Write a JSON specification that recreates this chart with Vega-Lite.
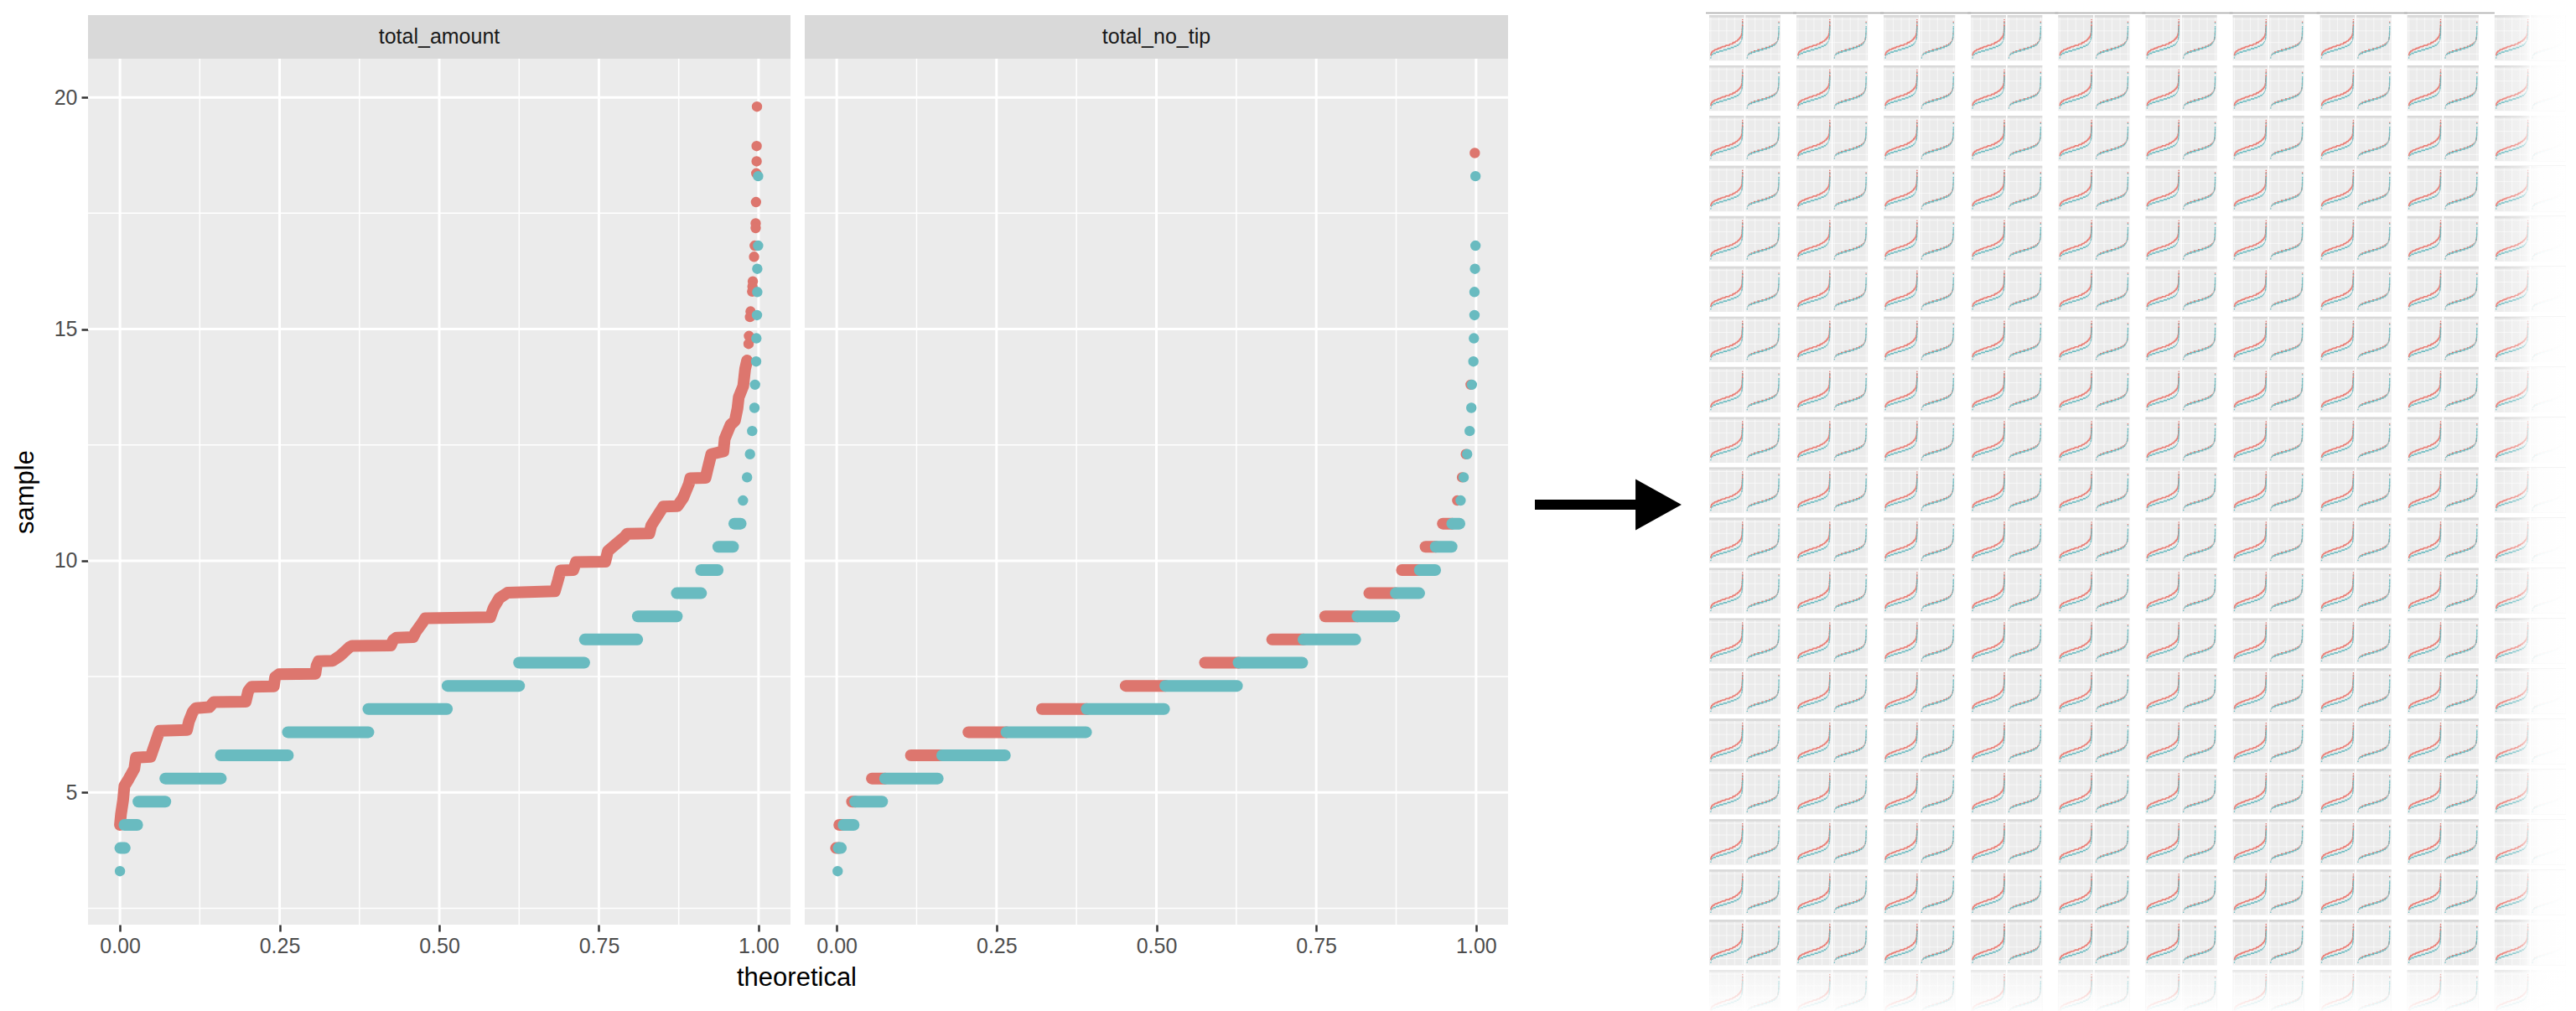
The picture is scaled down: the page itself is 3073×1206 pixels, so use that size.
{
  "$schema": "https://vega.github.io/schema/vega-lite/v6.json",
  "padding": {"left": 14, "top": 14, "right": 0, "bottom": 0},
  "background": "white",
  "config": {"font": "Liberation Sans", "view": {"stroke": null}},
  "datasets": {
    "grid": [
      {"dir": "x", "val": 0, "kind": "major"}, {"dir": "x", "val": 0.25, "kind": "major"}, {"dir": "x", "val": 0.5, "kind": "major"}, {"dir": "x", "val": 0.75, "kind": "major"}, {"dir": "x", "val": 1, "kind": "major"},
      {"dir": "x", "val": 0.125, "kind": "minor"}, {"dir": "x", "val": 0.375, "kind": "minor"}, {"dir": "x", "val": 0.625, "kind": "minor"}, {"dir": "x", "val": 0.875, "kind": "minor"},
      {"dir": "y", "val": 5, "kind": "major"}, {"dir": "y", "val": 10, "kind": "major"}, {"dir": "y", "val": 15, "kind": "major"}, {"dir": "y", "val": 20, "kind": "major"},
      {"dir": "y", "val": 2.5, "kind": "minor"}, {"dir": "y", "val": 7.5, "kind": "minor"}, {"dir": "y", "val": 12.5, "kind": "minor"}, {"dir": "y", "val": 17.5, "kind": "minor"}
    ],
    "curve": [
      {"t": 0.000, "v": 4.30}, {"t": 0.0017, "v": 4.54}, {"t": 0.005, "v": 4.84}, {"t": 0.007, "v": 5.14}, {"t": 0.0137, "v": 5.29}, {"t": 0.0225, "v": 5.51}, {"t": 0.025, "v": 5.75}, {"t": 0.048, "v": 5.77}, {"t": 0.055, "v": 6.05}, {"t": 0.062, "v": 6.33}, {"t": 0.105, "v": 6.35}, {"t": 0.108, "v": 6.53}, {"t": 0.114, "v": 6.74}, {"t": 0.119, "v": 6.82}, {"t": 0.140, "v": 6.84}, {"t": 0.147, "v": 6.95}, {"t": 0.197, "v": 6.96}, {"t": 0.201, "v": 7.19}, {"t": 0.206, "v": 7.28}, {"t": 0.241, "v": 7.29}, {"t": 0.243, "v": 7.49}, {"t": 0.249, "v": 7.55}, {"t": 0.306, "v": 7.56}, {"t": 0.308, "v": 7.74}, {"t": 0.311, "v": 7.83}, {"t": 0.333, "v": 7.84}, {"t": 0.345, "v": 7.95}, {"t": 0.359, "v": 8.13}, {"t": 0.363, "v": 8.16}, {"t": 0.424, "v": 8.17}, {"t": 0.428, "v": 8.29}, {"t": 0.433, "v": 8.34}, {"t": 0.459, "v": 8.35}, {"t": 0.463, "v": 8.46}, {"t": 0.474, "v": 8.67}, {"t": 0.478, "v": 8.76}, {"t": 0.580, "v": 8.78}, {"t": 0.585, "v": 8.98}, {"t": 0.594, "v": 9.19}, {"t": 0.607, "v": 9.31}, {"t": 0.681, "v": 9.34}, {"t": 0.686, "v": 9.58}, {"t": 0.690, "v": 9.79}, {"t": 0.710, "v": 9.80}, {"t": 0.714, "v": 9.97}, {"t": 0.760, "v": 9.98}, {"t": 0.764, "v": 10.21}, {"t": 0.777, "v": 10.36}, {"t": 0.790, "v": 10.51}, {"t": 0.794, "v": 10.58}, {"t": 0.829, "v": 10.59}, {"t": 0.832, "v": 10.76}, {"t": 0.843, "v": 11.00}, {"t": 0.851, "v": 11.17}, {"t": 0.873, "v": 11.18}, {"t": 0.882, "v": 11.36}, {"t": 0.891, "v": 11.66}, {"t": 0.893, "v": 11.78}, {"t": 0.917, "v": 11.79}, {"t": 0.921, "v": 12.02}, {"t": 0.926, "v": 12.30}, {"t": 0.945, "v": 12.36}, {"t": 0.947, "v": 12.63}, {"t": 0.956, "v": 12.93}, {"t": 0.963, "v": 13.02}, {"t": 0.967, "v": 13.29}, {"t": 0.969, "v": 13.53}, {"t": 0.976, "v": 13.77}, {"t": 0.979, "v": 14.14}, {"t": 0.982, "v": 14.32}
    ],
    "runs": [
      {"panel": "total_no_tip", "grp": "CRD", "v": 3.8, "t0": -0.001, "t1": 0.003},
      {"panel": "total_no_tip", "grp": "CRD", "v": 4.3, "t0": 0.004, "t1": 0.0107},
      {"panel": "total_no_tip", "grp": "CRD", "v": 4.8, "t0": 0.024, "t1": 0.029},
      {"panel": "total_no_tip", "grp": "CRD", "v": 5.3, "t0": 0.055, "t1": 0.0756},
      {"panel": "total_no_tip", "grp": "CRD", "v": 5.8, "t0": 0.116, "t1": 0.165},
      {"panel": "total_no_tip", "grp": "CRD", "v": 6.3, "t0": 0.206, "t1": 0.2655},
      {"panel": "total_no_tip", "grp": "CRD", "v": 6.8, "t0": 0.321, "t1": 0.391},
      {"panel": "total_no_tip", "grp": "CRD", "v": 7.3, "t0": 0.452, "t1": 0.514},
      {"panel": "total_no_tip", "grp": "CRD", "v": 7.8, "t0": 0.576, "t1": 0.6285},
      {"panel": "total_no_tip", "grp": "CRD", "v": 8.3, "t0": 0.681, "t1": 0.730},
      {"panel": "total_no_tip", "grp": "CRD", "v": 8.8, "t0": 0.764, "t1": 0.8145},
      {"panel": "total_no_tip", "grp": "CRD", "v": 9.3, "t0": 0.833, "t1": 0.8745},
      {"panel": "total_no_tip", "grp": "CRD", "v": 9.8, "t0": 0.884, "t1": 0.912},
      {"panel": "total_no_tip", "grp": "CRD", "v": 10.3, "t0": 0.921, "t1": 0.937},
      {"panel": "total_no_tip", "grp": "CRD", "v": 10.8, "t0": 0.948, "t1": 0.9627},
      {"panel": "total_amount", "grp": "CSH", "v": 3.8, "t0": 0.0006, "t1": 0.0075},
      {"panel": "total_amount", "grp": "CSH", "v": 4.3, "t0": 0.007, "t1": 0.027},
      {"panel": "total_amount", "grp": "CSH", "v": 4.8, "t0": 0.029, "t1": 0.071},
      {"panel": "total_amount", "grp": "CSH", "v": 5.3, "t0": 0.071, "t1": 0.158},
      {"panel": "total_amount", "grp": "CSH", "v": 5.8, "t0": 0.158, "t1": 0.263},
      {"panel": "total_amount", "grp": "CSH", "v": 6.3, "t0": 0.263, "t1": 0.389},
      {"panel": "total_amount", "grp": "CSH", "v": 6.8, "t0": 0.389, "t1": 0.512},
      {"panel": "total_amount", "grp": "CSH", "v": 7.3, "t0": 0.513, "t1": 0.625},
      {"panel": "total_amount", "grp": "CSH", "v": 7.8, "t0": 0.625, "t1": 0.727},
      {"panel": "total_amount", "grp": "CSH", "v": 8.3, "t0": 0.728, "t1": 0.810},
      {"panel": "total_amount", "grp": "CSH", "v": 8.8, "t0": 0.811, "t1": 0.872},
      {"panel": "total_amount", "grp": "CSH", "v": 9.3, "t0": 0.872, "t1": 0.910},
      {"panel": "total_amount", "grp": "CSH", "v": 9.8, "t0": 0.910, "t1": 0.936},
      {"panel": "total_amount", "grp": "CSH", "v": 10.3, "t0": 0.937, "t1": 0.960},
      {"panel": "total_amount", "grp": "CSH", "v": 10.8, "t0": 0.962, "t1": 0.972},
      {"panel": "total_no_tip", "grp": "CSH", "v": 3.8, "t0": 0.003, "t1": 0.0065},
      {"panel": "total_no_tip", "grp": "CSH", "v": 4.3, "t0": 0.0107, "t1": 0.0265},
      {"panel": "total_no_tip", "grp": "CSH", "v": 4.8, "t0": 0.029, "t1": 0.071},
      {"panel": "total_no_tip", "grp": "CSH", "v": 5.3, "t0": 0.0756, "t1": 0.158},
      {"panel": "total_no_tip", "grp": "CSH", "v": 5.8, "t0": 0.165, "t1": 0.263},
      {"panel": "total_no_tip", "grp": "CSH", "v": 6.3, "t0": 0.2655, "t1": 0.390},
      {"panel": "total_no_tip", "grp": "CSH", "v": 6.8, "t0": 0.391, "t1": 0.512},
      {"panel": "total_no_tip", "grp": "CSH", "v": 7.3, "t0": 0.514, "t1": 0.626},
      {"panel": "total_no_tip", "grp": "CSH", "v": 7.8, "t0": 0.6285, "t1": 0.728},
      {"panel": "total_no_tip", "grp": "CSH", "v": 8.3, "t0": 0.730, "t1": 0.811},
      {"panel": "total_no_tip", "grp": "CSH", "v": 8.8, "t0": 0.8145, "t1": 0.872},
      {"panel": "total_no_tip", "grp": "CSH", "v": 9.3, "t0": 0.8745, "t1": 0.911},
      {"panel": "total_no_tip", "grp": "CSH", "v": 9.8, "t0": 0.912, "t1": 0.936},
      {"panel": "total_no_tip", "grp": "CSH", "v": 10.3, "t0": 0.937, "t1": 0.9617},
      {"panel": "total_no_tip", "grp": "CSH", "v": 10.8, "t0": 0.9627, "t1": 0.974}
    ],
    "dots": [
      {"panel": "total_amount", "grp": "CRD", "t": 0.9975, "v": 19.80},
      {"panel": "total_amount", "grp": "CRD", "t": 0.997, "v": 18.95},
      {"panel": "total_amount", "grp": "CRD", "t": 0.997, "v": 18.62},
      {"panel": "total_amount", "grp": "CRD", "t": 0.9965, "v": 18.36},
      {"panel": "total_amount", "grp": "CRD", "t": 0.996, "v": 17.74},
      {"panel": "total_amount", "grp": "CRD", "t": 0.9955, "v": 17.28},
      {"panel": "total_amount", "grp": "CRD", "t": 0.9955, "v": 17.18},
      {"panel": "total_amount", "grp": "CRD", "t": 0.994, "v": 16.80},
      {"panel": "total_amount", "grp": "CRD", "t": 0.993, "v": 16.56},
      {"panel": "total_amount", "grp": "CRD", "t": 0.991, "v": 16.03},
      {"panel": "total_amount", "grp": "CRD", "t": 0.9905, "v": 15.92},
      {"panel": "total_amount", "grp": "CRD", "t": 0.990, "v": 15.81},
      {"panel": "total_amount", "grp": "CRD", "t": 0.9875, "v": 15.38},
      {"panel": "total_amount", "grp": "CRD", "t": 0.9866, "v": 15.26},
      {"panel": "total_amount", "grp": "CRD", "t": 0.985, "v": 14.85},
      {"panel": "total_amount", "grp": "CRD", "t": 0.9844, "v": 14.68},
      {"panel": "total_no_tip", "grp": "CRD", "t": 0.998, "v": 18.80},
      {"panel": "total_no_tip", "grp": "CRD", "t": 0.9915, "v": 13.8},
      {"panel": "total_no_tip", "grp": "CRD", "t": 0.984, "v": 12.3},
      {"panel": "total_no_tip", "grp": "CRD", "t": 0.978, "v": 11.8},
      {"panel": "total_no_tip", "grp": "CRD", "t": 0.9705, "v": 11.3},
      {"panel": "total_amount", "grp": "CSH", "t": 0.0, "v": 3.3},
      {"panel": "total_amount", "grp": "CSH", "t": 0.9993, "v": 18.3},
      {"panel": "total_amount", "grp": "CSH", "t": 0.9993, "v": 16.8},
      {"panel": "total_amount", "grp": "CSH", "t": 0.998, "v": 16.3},
      {"panel": "total_amount", "grp": "CSH", "t": 0.998, "v": 15.8},
      {"panel": "total_amount", "grp": "CSH", "t": 0.9975, "v": 15.3},
      {"panel": "total_amount", "grp": "CSH", "t": 0.9966, "v": 14.8},
      {"panel": "total_amount", "grp": "CSH", "t": 0.9962, "v": 14.3},
      {"panel": "total_amount", "grp": "CSH", "t": 0.9945, "v": 13.8},
      {"panel": "total_amount", "grp": "CSH", "t": 0.9936, "v": 13.3},
      {"panel": "total_amount", "grp": "CSH", "t": 0.990, "v": 12.8},
      {"panel": "total_amount", "grp": "CSH", "t": 0.9866, "v": 12.3},
      {"panel": "total_amount", "grp": "CSH", "t": 0.982, "v": 11.8},
      {"panel": "total_amount", "grp": "CSH", "t": 0.9756, "v": 11.3},
      {"panel": "total_no_tip", "grp": "CSH", "t": 0.0015, "v": 3.3},
      {"panel": "total_no_tip", "grp": "CSH", "t": 0.9991, "v": 18.3},
      {"panel": "total_no_tip", "grp": "CSH", "t": 0.9991, "v": 16.8},
      {"panel": "total_no_tip", "grp": "CSH", "t": 0.9983, "v": 16.3},
      {"panel": "total_no_tip", "grp": "CSH", "t": 0.9975, "v": 15.8},
      {"panel": "total_no_tip", "grp": "CSH", "t": 0.9975, "v": 15.3},
      {"panel": "total_no_tip", "grp": "CSH", "t": 0.9966, "v": 14.8},
      {"panel": "total_no_tip", "grp": "CSH", "t": 0.9958, "v": 14.3},
      {"panel": "total_no_tip", "grp": "CSH", "t": 0.9934, "v": 13.8},
      {"panel": "total_no_tip", "grp": "CSH", "t": 0.9926, "v": 13.3},
      {"panel": "total_no_tip", "grp": "CSH", "t": 0.990, "v": 12.8},
      {"panel": "total_no_tip", "grp": "CSH", "t": 0.986, "v": 12.3},
      {"panel": "total_no_tip", "grp": "CSH", "t": 0.9806, "v": 11.8},
      {"panel": "total_no_tip", "grp": "CSH", "t": 0.9758, "v": 11.3}
    ],
    "strips": [{"panel": "total_amount"}, {"panel": "total_no_tip"}],
    "fade": [
      {"r0": 0, "r1": 0, "r2": 0, "r3": 0, "r4": 0, "r5": 0, "r6": 0, "r7": 0, "r8": 0, "r9": 0, "r10": 0, "r11": 0, "r12": 0, "r13": 0, "r14": 0, "r15": 0, "r16": 0, "r17": 0, "r18": 0, "r19": 1,
       "c0": 0, "c1": 0, "c2": 0, "c3": 0, "c4": 0, "c5": 0, "c6": 0, "c7": 0, "c8": 0, "c9": 1}
    ],
    "border": [
      {"r0": 1, "r1": 0, "r2": 0, "r3": 0, "r4": 0, "r5": 0, "r6": 0, "r7": 0, "r8": 0, "r9": 0, "r10": 0, "r11": 0, "r12": 0, "r13": 0, "r14": 0, "r15": 0, "r16": 0, "r17": 0, "r18": 0, "r19": 0,
       "c0": 1, "c1": 1, "c2": 1, "c3": 1, "c4": 1, "c5": 1, "c6": 1, "c7": 1, "c8": 1, "c9": 0}
    ]
  },
  "bounds": "flush",
  "spacing": 17,
  "hconcat": [
    {
      "width": 838, "height": 1085,
      "view": {"fill": "#EBEBEB", "stroke": null},
      "layer": [
        {
          "data": {"name": "grid"},
          "transform": [{"filter": "datum.dir == 'x'"}],
          "mark": {"type": "rule", "color": "white"},
          "encoding": {
            "x": {"field": "val", "type": "quantitative", "scale": {"domain": [-0.05, 1.05], "nice": false, "zero": false},
                  "axis": {"values": [0, 0.25, 0.5, 0.75, 1], "format": ".2f", "grid": false, "domain": false, "labelFlush": false, "tickColor": "#333333", "tickSize": 8, "tickWidth": 2.5, "labelFontSize": 25, "labelColor": "#4D4D4D", "labelPadding": 5, "title": "theoretical", "titleFontSize": 31, "titleFontWeight": "normal", "titleColor": "#000000", "titlePadding": 10, "titleX": 845}},
            "strokeWidth": {"field": "kind", "type": "ordinal", "scale": {"domain": ["major", "minor"], "range": [3, 1.5]}, "legend": null}
          }
        },
        {
          "data": {"name": "grid"},
          "transform": [{"filter": "datum.dir == 'y'"}],
          "mark": {"type": "rule", "color": "white"},
          "encoding": {
            "y": {"field": "val", "type": "quantitative", "scale": {"domain": [2.146, 21.776], "nice": false, "zero": false},
                  "axis": {"values": [5, 10, 15, 20], "format": "d", "grid": false, "domain": false, "labelFlush": false, "tickColor": "#333333", "tickSize": 8, "tickWidth": 2.5, "labelFontSize": 25, "labelColor": "#4D4D4D", "labelPadding": 5, "title": "sample", "titleFontSize": 31, "titleFontWeight": "normal", "titleColor": "#000000", "titlePadding": 18, "titleY": 568.5}},
            "strokeWidth": {"field": "kind", "type": "ordinal", "scale": {"domain": ["major", "minor"], "range": [3, 1.5]}, "legend": null}
          }
        },
        {
          "data": {"name": "curve"},
          "mark": {"type": "line", "color": "#DD766E", "strokeWidth": 14, "strokeCap": "round", "strokeJoin": "round"},
          "encoding": {
            "x": {"field": "t", "type": "quantitative"},
            "y": {"field": "v", "type": "quantitative"}
          }
        },
        {
          "data": {"name": "runs"},
          "transform": [{"filter": "datum.panel == 'total_amount'"}],
          "mark": {"type": "rule", "strokeWidth": 14, "strokeCap": "round"},
          "encoding": {
            "x": {"field": "t0", "type": "quantitative"},
            "x2": {"field": "t1"},
            "y": {"field": "v", "type": "quantitative"},
            "color": {"field": "grp", "type": "nominal", "scale": {"domain": ["CRD", "CSH"], "range": ["#DD766E", "#69BBC0"]}, "legend": null}
          }
        },
        {
          "data": {"name": "dots"},
          "transform": [{"filter": "datum.panel == 'total_amount'"}],
          "mark": {"type": "point", "filled": true, "size": 154, "opacity": 1, "strokeWidth": 0},
          "encoding": {
            "x": {"field": "t", "type": "quantitative"},
            "y": {"field": "v", "type": "quantitative"},
            "color": {"field": "grp", "type": "nominal", "scale": {"domain": ["CRD", "CSH"], "range": ["#DD766E", "#69BBC0"]}, "legend": null}
          }
        },
        {
          "data": {"name": "strips"},
          "transform": [{"filter": "datum.panel == 'total_amount'"}],
          "mark": {"type": "rect", "color": "#D9D9D9"},
          "encoding": {
            "y": {"datum": 20.835, "type": "quantitative"},
            "y2": {"datum": 21.776}
          }
        },
        {
          "data": {"name": "strips"},
          "transform": [{"filter": "datum.panel == 'total_amount'"}],
          "mark": {"type": "text", "fontSize": 25, "color": "#1A1A1A", "baseline": "middle"},
          "encoding": {
            "y": {"datum": 21.3055, "type": "quantitative"},
            "text": {"field": "panel", "type": "nominal"}
          }
        }
      ]
    },
    {
      "width": 839, "height": 1085,
      "view": {"fill": "#EBEBEB", "stroke": null},
      "layer": [
        {
          "data": {"name": "grid"},
          "transform": [{"filter": "datum.dir == 'x'"}],
          "mark": {"type": "rule", "color": "white"},
          "encoding": {
            "x": {"field": "val", "type": "quantitative", "scale": {"domain": [-0.05, 1.05], "nice": false, "zero": false},
                  "axis": {"values": [0, 0.25, 0.5, 0.75, 1], "format": ".2f", "grid": false, "domain": false, "labelFlush": false, "tickColor": "#333333", "tickSize": 8, "tickWidth": 2.5, "labelFontSize": 25, "labelColor": "#4D4D4D", "labelPadding": 5, "title": null}},
            "strokeWidth": {"field": "kind", "type": "ordinal", "scale": {"domain": ["major", "minor"], "range": [3, 1.5]}, "legend": null}
          }
        },
        {
          "data": {"name": "grid"},
          "transform": [{"filter": "datum.dir == 'y'"}],
          "mark": {"type": "rule", "color": "white"},
          "encoding": {
            "y": {"field": "val", "type": "quantitative", "scale": {"domain": [2.146, 21.776], "nice": false, "zero": false}, "axis": null},
            "strokeWidth": {"field": "kind", "type": "ordinal", "scale": {"domain": ["major", "minor"], "range": [3, 1.5]}, "legend": null}
          }
        },
        {
          "data": {"name": "runs"},
          "transform": [{"filter": "datum.panel == 'total_no_tip'"}],
          "mark": {"type": "rule", "strokeWidth": 14, "strokeCap": "round"},
          "encoding": {
            "x": {"field": "t0", "type": "quantitative"},
            "x2": {"field": "t1"},
            "y": {"field": "v", "type": "quantitative"},
            "color": {"field": "grp", "type": "nominal", "scale": {"domain": ["CRD", "CSH"], "range": ["#DD766E", "#69BBC0"]}, "legend": null}
          }
        },
        {
          "data": {"name": "dots"},
          "transform": [{"filter": "datum.panel == 'total_no_tip'"}],
          "mark": {"type": "point", "filled": true, "size": 154, "opacity": 1, "strokeWidth": 0},
          "encoding": {
            "x": {"field": "t", "type": "quantitative"},
            "y": {"field": "v", "type": "quantitative"},
            "color": {"field": "grp", "type": "nominal", "scale": {"domain": ["CRD", "CSH"], "range": ["#DD766E", "#69BBC0"]}, "legend": null}
          }
        },
        {
          "data": {"name": "strips"},
          "transform": [{"filter": "datum.panel == 'total_no_tip'"}],
          "mark": {"type": "rect", "color": "#D9D9D9"},
          "encoding": {
            "y": {"datum": 20.835, "type": "quantitative"},
            "y2": {"datum": 21.776}
          }
        },
        {
          "data": {"name": "strips"},
          "transform": [{"filter": "datum.panel == 'total_no_tip'"}],
          "mark": {"type": "text", "fontSize": 25, "color": "#1A1A1A", "baseline": "middle"},
          "encoding": {
            "y": {"datum": 21.3055, "type": "quantitative"},
            "text": {"field": "panel", "type": "nominal"}
          }
        }
      ]
    },
    {
      "width": 206, "height": 1085,
      "view": {"stroke": null},
      "data": {"values": [{"k": 1}]},
      "layer": [
        {
          "mark": {"type": "rule", "color": "#000000", "strokeWidth": 12},
          "encoding": {
            "x": {"datum": 0.0728, "type": "quantitative", "scale": {"domain": [0, 1], "nice": false, "zero": false}, "axis": null},
            "x2": {"datum": 0.67},
            "y": {"datum": 0.4618, "type": "quantitative", "scale": {"domain": [0, 1], "nice": false, "zero": false}, "axis": null}
          }
        },
        {
          "mark": {"type": "point", "shape": "M -0.9 -1 L 0.9 0 L -0.9 1 Z", "filled": true, "color": "#000000", "size": 3721, "opacity": 1, "strokeWidth": 0},
          "encoding": {
            "x": {"datum": 0.7888, "type": "quantitative"},
            "y": {"datum": 0.4618, "type": "quantitative"}
          }
        }
      ]
    },
    {
      "bounds": "flush",
      "repeat": {
        "row": ["r0", "r1", "r2", "r3", "r4", "r5", "r6", "r7", "r8", "r9", "r10", "r11", "r12", "r13", "r14", "r15", "r16", "r17", "r18", "r19"],
        "column": ["c0", "c1", "c2", "c3", "c4", "c5", "c6", "c7", "c8", "c9"]
      },
      "spacing": {"row": 4.95, "column": 19.1},
      "spec": {
        "width": 85, "height": 54.3,
        "view": {"fill": "#EBEBEB", "stroke": null},
        "layer": [
          {
            "data": {"name": "grid"},
            "transform": [{"filter": "datum.dir == 'x' && datum.kind == 'major'"}],
            "mark": {"type": "rule", "color": "#FFFFFF", "strokeWidth": 0.6},
            "encoding": {
              "x": {"field": "val", "type": "quantitative", "scale": {"domain": [-0.05, 1.05], "range": [0, 41.7], "nice": false, "zero": false}, "axis": null}
            }
          },
          {
            "data": {"name": "grid"},
            "transform": [{"filter": "datum.dir == 'x' && datum.kind == 'major'"}],
            "mark": {"type": "rule", "color": "#FFFFFF", "strokeWidth": 0.6, "xOffset": 43.3},
            "encoding": {
              "x": {"field": "val", "type": "quantitative"}
            }
          },
          {
            "data": {"name": "grid"},
            "transform": [{"filter": "datum.dir == 'y' && datum.kind == 'major'"}],
            "mark": {"type": "rule", "color": "#FFFFFF", "strokeWidth": 0.6},
            "encoding": {
              "y": {"field": "val", "type": "quantitative", "scale": {"domain": [2.146, 21.8], "nice": false, "zero": false}, "axis": null}
            }
          },
          {
            "data": {"name": "curve"},
            "mark": {"type": "line", "color": "#EA7F77", "strokeWidth": 1.7},
            "encoding": {
              "x": {"field": "t", "type": "quantitative"},
              "y": {"field": "v", "type": "quantitative"}
            }
          },
          {
            "data": {"name": "runs"},
            "transform": [{"filter": "datum.panel == 'total_amount'"}],
            "mark": {"type": "rule", "strokeWidth": 1.7},
            "encoding": {
              "x": {"field": "t0", "type": "quantitative"},
              "x2": {"field": "t1"},
              "y": {"field": "v", "type": "quantitative"},
              "color": {"field": "grp", "type": "nominal", "scale": {"domain": ["CRD", "CSH"], "range": ["#EA7F77", "#45BEC3"]}, "legend": null}
            }
          },
          {
            "data": {"name": "dots"},
            "transform": [{"filter": "datum.panel == 'total_amount'"}],
            "mark": {"type": "point", "filled": true, "size": 2.5, "opacity": 1, "strokeWidth": 0},
            "encoding": {
              "x": {"field": "t", "type": "quantitative"},
              "y": {"field": "v", "type": "quantitative"},
              "color": {"field": "grp", "type": "nominal", "scale": {"domain": ["CRD", "CSH"], "range": ["#EA7F77", "#45BEC3"]}, "legend": null}
            }
          },
          {
            "data": {"name": "runs"},
            "transform": [{"filter": "datum.panel == 'total_no_tip'"}],
            "mark": {"type": "rule", "strokeWidth": 1.7, "xOffset": 43.3, "x2Offset": 43.3},
            "encoding": {
              "x": {"field": "t0", "type": "quantitative"},
              "x2": {"field": "t1"},
              "y": {"field": "v", "type": "quantitative"},
              "color": {"field": "grp", "type": "nominal", "scale": {"domain": ["CRD", "CSH"], "range": ["#EA7F77", "#45BEC3"]}, "legend": null}
            }
          },
          {
            "data": {"name": "dots"},
            "transform": [{"filter": "datum.panel == 'total_no_tip'"}],
            "mark": {"type": "point", "filled": true, "size": 2.5, "opacity": 1, "strokeWidth": 0, "xOffset": 43.3},
            "encoding": {
              "x": {"field": "t", "type": "quantitative"},
              "y": {"field": "v", "type": "quantitative"},
              "color": {"field": "grp", "type": "nominal", "scale": {"domain": ["CRD", "CSH"], "range": ["#EA7F77", "#45BEC3"]}, "legend": null}
            }
          },
          {
            "data": {"name": "strips"},
            "transform": [{"filter": "datum.panel == 'total_amount'"}],
            "mark": {"type": "rect", "color": "#D9D9D9"},
            "encoding": {
              "y": {"datum": 20.835, "type": "quantitative"},
              "y2": {"datum": 21.8}
            }
          },
          {
            "data": {"name": "strips"},
            "transform": [{"filter": "datum.panel == 'total_amount'"}],
            "mark": {"type": "rule", "color": "#FFFFFF", "strokeWidth": 1.6},
            "encoding": {
              "x": {"datum": 1.071, "type": "quantitative"}
            }
          },
          {
            "data": {"name": "border"},
            "mark": {"type": "rule", "color": "#A6A6A6", "strokeWidth": 1.5, "xOffset": -4, "yOffset": -2.5},
            "encoding": {
              "x": {"datum": -0.05, "type": "quantitative"},
              "x2": {"datum": 2.696},
              "y": {"datum": 21.8, "type": "quantitative"},
              "strokeOpacity": {"field": {"repeat": "row"}, "type": "quantitative", "scale": null},
              "opacity": {"field": {"repeat": "column"}, "type": "quantitative", "scale": null}
            }
          },
          {
            "data": {"name": "fade"},
            "mark": {"type": "rect", "fill": {"gradient": "linear", "x1": 0, "y1": 0, "x2": 0, "y2": 1, "stops": [{"offset": 0, "color": "rgba(255,255,255,0.4)"}, {"offset": 1, "color": "rgba(255,255,255,1)"}]}},
            "encoding": {"opacity": {"field": {"repeat": "row"}, "type": "quantitative", "scale": null}}
          },
          {
            "data": {"name": "fade"},
            "mark": {"type": "rect", "fill": {"gradient": "linear", "x1": 0, "y1": 0, "x2": 1, "y2": 0, "stops": [{"offset": 0, "color": "rgba(255,255,255,0)"}, {"offset": 0.35, "color": "rgba(255,255,255,0.3)"}, {"offset": 0.5, "color": "rgba(255,255,255,0.75)"}, {"offset": 0.62, "color": "rgba(255,255,255,0.93)"}, {"offset": 1, "color": "rgba(255,255,255,1)"}]}},
            "encoding": {"opacity": {"field": {"repeat": "column"}, "type": "quantitative", "scale": null}}
          }
        ]
      }
    }
  ]
}
